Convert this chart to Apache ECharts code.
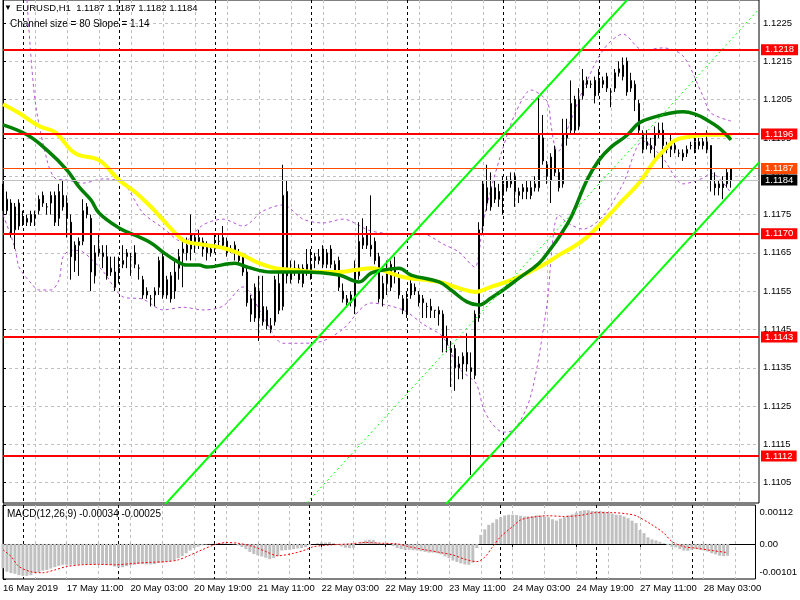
<!DOCTYPE html>
<html><head><meta charset="utf-8">
<script src="https://cdn.jsdelivr.net/npm/echarts@6/dist/echarts.min.js"></script>
<style>html,body{margin:0;padding:0;background:#fff}#c{width:800px;height:600px}</style>
</head><body><div id="c"></div>
<script>
// ---------- DATA ----------
const tradingDays = ['16 May','17 May','20 May','21 May','22 May','23 May','24 May','27 May','28 May'];
const firstBarHour = 19;
const slotCount = 190;
const tickLabels = ['16 May 2019','17 May 11:00','20 May 03:00','20 May 19:00','21 May 11:00','22 May 03:00','22 May 19:00','23 May 11:00','24 May 03:00','24 May 19:00','27 May 11:00','28 May 03:00'];
const priceTicks = [1.1105,1.1115,1.1125,1.1135,1.1145,1.1155,1.1165,1.1175,1.1185,1.1195,1.1205,1.1215,1.1225];
const levelLines = [1.1218,1.1196,1.1170,1.1143,1.1112];
const bidLine = 1.1187;
const askLine = 1.1184;
const macdTicks = [0.00112, 0, -0.00101];
// candles: [open, close, low, high]
const candles = [
[1.1182,1.1177,1.1176,1.1183],[1.1176,1.1179,1.1175,1.1181],[1.1178,1.1170,1.1169,1.1179],[1.1171,1.1177,1.1166,1.1178],
[1.1178,1.1172,1.1171,1.1179],[1.1174,1.1173,1.1172,1.1176],[1.1173,1.1174,1.1172,1.1175],[1.1175,1.1173,1.1172,1.1176],
[1.1174,1.1175,1.1172,1.1176],[1.1176,1.1179,1.1175,1.1180],[1.1180,1.1178,1.1177,1.1181],[1.1177,1.1177,1.1175,1.1178],
[1.1178,1.1180,1.1175,1.1181],[1.1180,1.1173,1.1172,1.1181],[1.1174,1.1181,1.1172,1.1183],[1.1180,1.1177,1.1176,1.1184],
[1.1178,1.1174,1.1169,1.1180],[1.1173,1.1164,1.1158,1.1175],[1.1163,1.1167,1.1160,1.1168],[1.1168,1.1167,1.1159,1.1169],
[1.1168,1.1176,1.1167,1.1179],[1.1177,1.1175,1.1174,1.1178],[1.1174,1.1160,1.1155,1.1175],[1.1159,1.1165,1.1157,1.1167],
[1.1166,1.1165,1.1164,1.1170],[1.1164,1.1165,1.1161,1.1167],[1.1164,1.1159,1.1158,1.1167],[1.1160,1.1161,1.1159,1.1164],
[1.1160,1.1156,1.1155,1.1164],[1.1160,1.1161,1.1157,1.1164],[1.1162,1.1163,1.1161,1.1167],[1.1164,1.1165,1.1161,1.1166],
[1.1164,1.1164,1.1159,1.1165],[1.1165,1.1162,1.1161,1.1167],[1.1161,1.1161,1.1158,1.1162],[1.1158,1.1154,1.1153,1.1159],
[1.1155,1.1154,1.1153,1.1156],[1.1153,1.1153,1.1151,1.1154],[1.1154,1.1155,1.1151,1.1156],[1.1156,1.1163,1.1154,1.1164],
[1.1164,1.1154,1.1153,1.1165],[1.1154,1.1158,1.1153,1.1159],[1.1159,1.1153,1.1152,1.1160],[1.1155,1.1160,1.1153,1.1163],
[1.1161,1.1164,1.1158,1.1166],[1.1165,1.1166,1.1156,1.1169],[1.1167,1.1165,1.1163,1.1169],[1.1166,1.1170,1.1163,1.1175],
[1.1169,1.1168,1.1165,1.1170],[1.1168,1.1169,1.1166,1.1171],[1.1168,1.1166,1.1164,1.1169],[1.1167,1.1165,1.1163,1.1168],
[1.1166,1.1165,1.1164,1.1167],[1.1166,1.1167,1.1165,1.1170],[1.1168,1.1168,1.1167,1.1170],[1.1169,1.1167,1.1166,1.1172],
[1.1168,1.1165,1.1164,1.1169],[1.1166,1.1166,1.1165,1.1167],[1.1167,1.1165,1.1163,1.1168],[1.1165,1.1163,1.1162,1.1166],
[1.1164,1.1160,1.1159,1.1165],[1.1160,1.1152,1.1151,1.1161],[1.1153,1.1149,1.1147,1.1154],[1.1148,1.1156,1.1147,1.1157],
[1.1155,1.1148,1.1142,1.1159],[1.1147,1.1151,1.1146,1.1159],[1.1150,1.1146,1.1145,1.1151],[1.1145,1.1146,1.1144,1.1148],
[1.1147,1.1158,1.1146,1.1159],[1.1157,1.1150,1.1149,1.1160],[1.1151,1.1180,1.1150,1.1188],[1.1181,1.1159,1.1157,1.1184],
[1.1158,1.1160,1.1157,1.1163],[1.1161,1.1160,1.1159,1.1163],[1.1161,1.1158,1.1157,1.1162],[1.1157,1.1161,1.1156,1.1162],
[1.1162,1.1160,1.1159,1.1166],[1.1159,1.1162,1.1158,1.1166],[1.1163,1.1164,1.1161,1.1165],[1.1163,1.1164,1.1162,1.1166],
[1.1166,1.1162,1.1161,1.1167],[1.1162,1.1165,1.1161,1.1166],[1.1166,1.1162,1.1161,1.1167],[1.1160,1.1162,1.1159,1.1163],
[1.1163,1.1156,1.1155,1.1164],[1.1155,1.1153,1.1152,1.1157],[1.1152,1.1153,1.1151,1.1154],[1.1152,1.1154,1.1151,1.1155],
[1.1151,1.1160,1.1149,1.1163],[1.1159,1.1168,1.1158,1.1173],[1.1167,1.1169,1.1166,1.1174],[1.1170,1.1167,1.1166,1.1172],
[1.1166,1.1167,1.1164,1.1180],[1.1168,1.1163,1.1162,1.1169],[1.1164,1.1153,1.1152,1.1165],[1.1153,1.1157,1.1151,1.1159],
[1.1160,1.1157,1.1154,1.1163],[1.1156,1.1162,1.1155,1.1163],[1.1161,1.1160,1.1157,1.1164],[1.1159,1.1154,1.1153,1.1160],
[1.1153,1.1150,1.1149,1.1154],[1.1149,1.1153,1.1148,1.1155],[1.1154,1.1157,1.1153,1.1159],[1.1156,1.1155,1.1154,1.1157],
[1.1154,1.1152,1.1151,1.1155],[1.1153,1.1152,1.1148,1.1154],[1.1151,1.1151,1.1148,1.1152],[1.1151,1.1150,1.1148,1.1153],
[1.1150,1.1150,1.1148,1.1150],[1.1149,1.1150,1.1146,1.1151],[1.1149,1.1143,1.1139,1.1150],[1.1143,1.1141,1.1139,1.1146],
[1.1140,1.1139,1.1130,1.1142],[1.1140,1.1135,1.1129,1.1141],[1.1136,1.1135,1.1132,1.1138],[1.1136,1.1138,1.1132,1.1139],
[1.1139,1.1136,1.1134,1.1144],[1.1135,1.1134,1.1107,1.1139],[1.1133,1.1149,1.1132,1.1150],[1.1148,1.1171,1.1147,1.1173],
[1.1172,1.1183,1.1170,1.1184],[1.1182,1.1178,1.1176,1.1188],[1.1177,1.1182,1.1176,1.1186],[1.1182,1.1179,1.1178,1.1184],
[1.1181,1.1179,1.1177,1.1183],[1.1180,1.1183,1.1175,1.1185],[1.1184,1.1182,1.1181,1.1185],[1.1183,1.1184,1.1182,1.1186],
[1.1185,1.1181,1.1177,1.1186],[1.1180,1.1181,1.1178,1.1182],[1.1182,1.1181,1.1179,1.1183],[1.1182,1.1181,1.1179,1.1184],
[1.1182,1.1180,1.1179,1.1184],[1.1182,1.1183,1.1181,1.1185],[1.1182,1.1196,1.1181,1.1206],[1.1195,1.1189,1.1188,1.1201],
[1.1188,1.1185,1.1183,1.1189],[1.1184,1.1190,1.1178,1.1191],[1.1192,1.1186,1.1185,1.1193],[1.1186,1.1182,1.1181,1.1187],
[1.1183,1.1196,1.1182,1.1200],[1.1195,1.1196,1.1193,1.1200],[1.1197,1.1204,1.1196,1.1210],[1.1205,1.1197,1.1196,1.1206],
[1.1198,1.1205,1.1197,1.1208],[1.1206,1.1210,1.1205,1.1213],[1.1209,1.1210,1.1208,1.1211],[1.1209,1.1209,1.1208,1.1210],
[1.1210,1.1206,1.1204,1.1211],[1.1207,1.1210,1.1206,1.1213],[1.1209,1.1210,1.1208,1.1211],[1.1211,1.1208,1.1207,1.1212],
[1.1207,1.1207,1.1203,1.1208],[1.1208,1.1212,1.1207,1.1213],[1.1212,1.1213,1.1211,1.1215],[1.1211,1.1214,1.1210,1.1216],
[1.1215,1.1207,1.1206,1.1216],[1.1208,1.1210,1.1207,1.1212],[1.1209,1.1205,1.1202,1.1210],[1.1204,1.1197,1.1196,1.1205],
[1.1196,1.1192,1.1191,1.1197],[1.1193,1.1194,1.1192,1.1197],[1.1193,1.1192,1.1191,1.1195],[1.1193,1.1196,1.1189,1.1198],
[1.1197,1.1196,1.1195,1.1199],[1.1197,1.1193,1.1187,1.1199],[1.1193,1.1192,1.1191,1.1194],[1.1192,1.1193,1.1190,1.1196],
[1.1193,1.1192,1.1191,1.1194],[1.1191,1.1191,1.1190,1.1192],[1.1191,1.1190,1.1189,1.1192],[1.1191,1.1192,1.1190,1.1193],
[1.1193,1.1193,1.1192,1.1194],[1.1192,1.1194,1.1191,1.1196],[1.1194,1.1193,1.1192,1.1195],[1.1194,1.1193,1.1192,1.1195],
[1.1194,1.1192,1.1191,1.1197],[1.1193,1.1184,1.1181,1.1193],[1.1183,1.1182,1.1180,1.1186],[1.1183,1.1182,1.1180,1.1184],
[1.1183,1.1182,1.1179,1.1185],[1.1183,1.1186,1.1182,1.1187],[1.1187,1.1184,1.1182,1.1187]
];
// moving averages, sampled [bar index, price]
const maYellow = [[0,1.12038],[4,1.12015],[9,1.11981],[13,1.11965],[17,1.11918],[19,1.11905],[24,1.11892],[29,1.11840],[33,1.11809],[37,1.11770],[40,1.11736],[43,1.11702],[45,1.11683],[47,1.11676],[51,1.11670],[56,1.11660],[60,1.11644],[64,1.11623],[68,1.11610],[73,1.11605],[79,1.11600],[84,1.11600],[88,1.11605],[92,1.11610],[100,1.11587],[109,1.11574],[114,1.11558],[118,1.11548],[122,1.11561],[127,1.11579],[131,1.11597],[135,1.11618],[139,1.11644],[142,1.11662],[146,1.11691],[151,1.11743],[155,1.11788],[159,1.11832],[163,1.11892],[166,1.11926],[168,1.11944],[171,1.11952],[176,1.11958],[180,1.11958],[182,1.11952]];
const maGreen = [[0,1.11984],[6,1.11958],[11,1.11918],[16,1.11866],[19,1.11822],[22,1.11788],[24,1.11754],[29,1.11715],[33,1.11696],[37,1.11676],[40,1.11652],[43,1.11631],[46,1.11618],[49,1.11618],[51,1.11613],[58,1.11623],[61,1.11613],[67,1.11600],[75,1.11600],[84,1.11592],[89,1.11574],[92,1.11597],[95,1.11605],[99,1.11610],[102,1.11592],[109,1.11574],[112,1.11553],[116,1.11522],[119,1.11514],[122,1.11532],[125,1.11553],[129,1.11584],[134,1.11623],[137,1.11662],[139,1.11691],[142,1.11743],[146,1.11840],[149,1.11892],[152,1.11926],[156,1.11957],[159,1.11989],[163,1.12005],[167,1.12015],[170,1.12018],[173,1.12012],[176,1.11997],[179,1.11976],[182,1.11945]];
const bandUpper = [[6,1.12310],[8,1.12049],[11,1.11892],[13,1.11845],[16,1.11840],[20,1.11832],[25,1.11843],[30,1.11832],[35,1.11754],[40,1.11715],[45,1.11678],[50,1.11723],[55,1.11738],[60,1.11720],[65,1.11759],[70,1.11775],[75,1.11738],[80,1.11728],[85,1.11738],[92,1.11707],[100,1.11699],[105,1.11699],[110,1.11673],[114,1.11652],[118,1.11613],[119,1.11652],[120,1.11728],[122,1.11817],[125,1.11924],[128,1.12012],[132,1.12075],[136,1.12046],[137,1.11984],[138,1.11926],[139,1.11916],[140,1.11942],[142,1.11997],[145,1.12075],[150,1.12179],[155,1.12221],[160,1.12179],[165,1.12185],[170,1.12164],[175,1.12059],[177,1.12015],[182,1.11994]];
const bandLower = [[0,1.11749],[3,1.11663],[4,1.11613],[7,1.11571],[9,1.11553],[12,1.11553],[14,1.11579],[15,1.11639],[17,1.11657],[20,1.11652],[25,1.11602],[30,1.11535],[35,1.11529],[40,1.11501],[45,1.11508],[50,1.11501],[55,1.11511],[60,1.11561],[65,1.11485],[70,1.11414],[75,1.11414],[80,1.11420],[85,1.11451],[92,1.11519],[100,1.11501],[105,1.11464],[110,1.11430],[114,1.11349],[118,1.11313],[119,1.11289],[120,1.11247],[122,1.11208],[125,1.11182],[128,1.11190],[132,1.11279],[136,1.11516],[137,1.11634],[138,1.11728],[139,1.11749],[140,1.11738],[142,1.11723],[145,1.11712],[150,1.11746],[155,1.11830],[160,1.11942],[165,1.11897],[170,1.11830],[175,1.11845],[177,1.11858],[182,1.11806]];
// regression channel (bar index, price) end points
const channelBars = [0, 189];
const channelMid = [1.10131, 1.12286];
const channelUpper = [1.10531, 1.12686];
const channelLower = [1.09731, 1.11886];
// MACD histogram per bar and signal line samples
const macdHist = [-0.00070,-0.00080,-0.00084,-0.00086,-0.00090,-0.00092,-0.00092,-0.00090,-0.00084,-0.00081,-0.00077,-0.00075,-0.00071,-0.00067,-0.00063,-0.00060,-0.00060,-0.00060,-0.00060,-0.00060,
-0.00060,-0.00059,-0.00059,-0.00059,-0.00059,-0.00060,-0.00060,-0.00061,-0.00065,-0.00068,-0.00067,-0.00064,-0.00061,-0.00060,-0.00058,-0.00058,-0.00059,-0.00059,-0.00058,-0.00055,
-0.00054,-0.00052,-0.00050,-0.00047,-0.00041,-0.00035,-0.00027,-0.00019,-0.00012,-0.00008,-0.00004,-0.00002,-0.00001,0.00001,0.00003,0.00003,0.00002,0.00001,-0.00001,-0.00004,
-0.00009,-0.00015,-0.00023,-0.00029,-0.00033,-0.00036,-0.00040,-0.00044,-0.00041,-0.00035,-0.00019,-0.00018,-0.00017,-0.00015,-0.00013,-0.00012,-0.00009,-0.00004,0.00000,0.00002,
0.00004,0.00004,0.00005,0.00002,-0.00002,-0.00007,-0.00011,-0.00012,-0.00011,0.00000,0.00006,0.00010,0.00012,0.00011,0.00004,0.00001,-0.00001,0.00001,-0.00006,-0.00012,
-0.00015,-0.00017,-0.00017,-0.00018,-0.00019,-0.00021,-0.00023,-0.00025,-0.00025,-0.00027,-0.00030,-0.00036,-0.00041,-0.00048,-0.00052,-0.00056,-0.00059,-0.00060,-0.00054,-0.00012,
0.00026,0.00042,0.00055,0.00061,0.00071,0.00077,0.00082,0.00084,0.00084,0.00083,0.00081,0.00079,0.00079,0.00080,0.00082,0.00082,0.00079,0.00077,0.00071,0.00067,
0.00073,0.00077,0.00082,0.00085,0.00090,0.00095,0.00097,0.00097,0.00095,0.00095,0.00095,0.00093,0.00090,0.00087,0.00084,0.00083,0.00079,0.00074,0.00067,0.00060,
0.00040,0.00031,0.00019,0.00013,0.00010,0.00006,0.00002,-0.00003,-0.00008,-0.00010,-0.00015,-0.00019,-0.00020,-0.00017,-0.00015,-0.00017,-0.00019,-0.00022,-0.00027,-0.00030,
-0.00034,-0.00035,-0.00034];
const macdSignal = [[0,-0.00017],[2,-0.00036],[4,-0.00065],[7,-0.00080],[10,-0.00083],[13,-0.00075],[16,-0.00065],[20,-0.00060],[24,-0.00059],[28,-0.00060],[33,-0.00056],[37,-0.00053],[41,-0.00051],[44,-0.00046],[47,-0.00032],[50,-0.00017],[53,-0.00003],[56,0.00004],[59,0.00002],[63,-0.00008],[66,-0.00022],[69,-0.00034],[73,-0.00027],[76,-0.00017],[78,-0.00008],[82,-0.00003],[87,0.00000],[91,0.00004],[95,0.00002],[99,0.00000],[102,-0.00008],[106,-0.00017],[110,-0.00025],[113,-0.00032],[116,-0.00044],[119,-0.00051],[121,-0.00038],[123,-0.00008],[125,0.00021],[128,0.00050],[130,0.00069],[133,0.00077],[137,0.00081],[141,0.00079],[145,0.00082],[149,0.00090],[153,0.00090],[157,0.00086],[159,0.00081],[163,0.00055],[166,0.00031],[168,0.00007],[171,-0.00008],[174,-0.00012],[178,-0.00019],[182,-0.00025]];

// ---------- BUILD ----------
const categories = [];
(function(){ let d = 0, h = firstBarHour;
  for (let i = 0; i < slotCount; i++) {
    categories.push(tradingDays[d] + ' ' + String(h).padStart(2,'0') + ':00');
    h++; if (h === 24) { h = 0; d++; }
  }})();
const isDayStart = (i) => / 00:00$/.test(categories[i]);

const FONT = 'Liberation Sans';
const G = {left:3, width:756};
const vGrid = (i) => i % 8 === 0;
const gridLineStyle = {color:'#c0c0c0', type:[3,3], width:1};
const sepStyle = {color:'#000', type:[3,3], width:1};
const hidden = {axisLine:{show:false}, axisTick:{show:false}, axisLabel:{show:false}};

const chart = echarts.init(document.getElementById('c'));
const option = {
  animation:false,
  backgroundColor:'#fff',
  grid:[
    {left:G.left, width:G.width, top:0, height:503, show:true, borderColor:'#000', borderWidth:1, backgroundColor:'#fff'},
    {left:G.left, width:G.width, top:505, height:74, show:true, borderColor:'#000', borderWidth:1, backgroundColor:'#fff'}
  ],
  xAxis:[
    {gridIndex:0, type:'category', data:categories, boundaryGap:false, ...hidden,
     splitLine:{show:true, interval:vGrid, lineStyle:gridLineStyle}},
    {gridIndex:1, type:'category', data:categories, boundaryGap:false, position:'bottom', axisLine:{show:true, lineStyle:{color:'#000'}},
     axisTick:{show:true, interval:(i)=> i % 16 === 0, length:3, lineStyle:{color:'#000'}},
     axisLabel:{show:true, interval:(i)=> i % 16 === 0 && i/16 < tickLabels.length, formatter:(v,i)=> tickLabels[i/16], align:'left', margin:4, color:'#000', fontSize:9.5, fontFamily:FONT},
     splitLine:{show:true, interval:vGrid, lineStyle:gridLineStyle}},
    {gridIndex:0, type:'value', min:0, max:slotCount-1, show:false},
    {gridIndex:1, type:'value', min:0, max:slotCount-1, show:false},
    {gridIndex:0, type:'category', data:categories, boundaryGap:false, position:'top', ...hidden,
     splitLine:{show:true, interval:isDayStart, lineStyle:sepStyle}},
    {gridIndex:1, type:'category', data:categories, boundaryGap:false, position:'top', ...hidden,
     splitLine:{show:true, interval:isDayStart, lineStyle:sepStyle}}
  ],
  yAxis:[
    {gridIndex:0, type:'value', position:'right', min:1.10997, max:1.12310,
     axisLine:{show:true, lineStyle:{color:'#000'}},
     axisTick:{show:true, customValues:priceTicks, length:3, lineStyle:{color:'#000'}},
     axisLabel:{customValues:priceTicks, formatter:(v)=> v.toFixed(4), color:'#000', fontSize:9.5, fontFamily:FONT, margin:4},
     splitLine:{show:true, lineStyle:gridLineStyle}},
    {gridIndex:1, type:'value', position:'right', min:-0.00101, max:0.00112,
     axisLine:{show:true, lineStyle:{color:'#000'}},
     axisTick:{show:true, customValues:macdTicks, length:3, lineStyle:{color:'#000'}},
     axisLabel:{customValues:macdTicks, color:'#000', fontSize:9.5, fontFamily:FONT, margin:4,
       formatter:(v)=> v > 0 ? '{t|' + v.toFixed(5) + '}' : (v < 0 ? '{b|' + v.toFixed(5) + '}' : '0.00'),
       rich:{t:{padding:[14,0,0,0], fontSize:9.5, fontFamily:FONT, color:'#000'}, b:{padding:[0,0,14,0], fontSize:9.5, fontFamily:FONT, color:'#000'}}},
     splitLine:{show:false}},
    {gridIndex:1, type:'value', position:'left', min:-0.00101, max:0.00112, ...hidden,
     axisTick:{show:false, customValues:[0]},
     splitLine:{show:true, lineStyle:gridLineStyle}}
  ],
  series:[
    {type:'line', xAxisIndex:2, yAxisIndex:0, data:bandUpper, symbol:'none', smooth:0.3, lineStyle:{color:'#b455d6', type:[3,3], width:1}, z:2, silent:true},
    {type:'line', xAxisIndex:2, yAxisIndex:0, data:bandLower, symbol:'none', smooth:0.3, lineStyle:{color:'#b455d6', type:[3,3], width:1}, z:2, silent:true},
    {type:'candlestick', xAxisIndex:0, yAxisIndex:0, data:candles, barWidth:2, z:3, silent:true,
     itemStyle:{color:'#fff', color0:'#000', borderColor:'#000', borderColor0:'#000', borderWidth:1}},
    {type:'line', xAxisIndex:2, yAxisIndex:0, data:maYellow, symbol:'none', smooth:0.4, lineStyle:{color:'#ffff00', width:4}, z:4, silent:true},
    {type:'line', xAxisIndex:2, yAxisIndex:0, data:maGreen, symbol:'none', smooth:0.4, lineStyle:{color:'#008000', width:3.5}, z:4, silent:true},
    {type:'line', xAxisIndex:2, yAxisIndex:0, data:channelBars.map((b,k)=>[b, channelUpper[k]]), symbol:'none', lineStyle:{color:'#00ff00', width:2}, z:5, silent:true},
    {type:'line', xAxisIndex:2, yAxisIndex:0, data:channelBars.map((b,k)=>[b, channelMid[k]]), symbol:'none', lineStyle:{color:'#00ff00', width:1, type:[2,3]}, z:5, silent:true},
    {type:'line', xAxisIndex:2, yAxisIndex:0, data:channelBars.map((b,k)=>[b, channelLower[k]]), symbol:'none', lineStyle:{color:'#00ff00', width:2}, z:5, silent:true},
    {type:'line', xAxisIndex:2, yAxisIndex:0, data:[], z:6, silent:true,
     markLine:{silent:true, precision:6, symbol:['none','none'], animation:false,
       label:{show:true, position:'end', distance:2, formatter:(p)=> Number(p.value).toFixed(4), color:'#fff', fontSize:9.5, fontFamily:FONT, padding:[1,4,0,4], lineHeight:10},
       data:[
         ...levelLines.map(v=>({yAxis:v, lineStyle:{color:'#ff0000', width:2, type:'solid'}, label:{backgroundColor:'#ff0000'}})),
         {yAxis:bidLine, lineStyle:{color:'#ff4a00', width:1, type:'solid'}, label:{backgroundColor:'#ff4a00'}},
         {yAxis:askLine, lineStyle:{color:'#c0c0c0', width:1, type:'solid'}, label:{backgroundColor:'#000'}}
       ]}},
    {type:'bar', xAxisIndex:1, yAxisIndex:1, data:macdHist, barWidth:3, itemStyle:{color:'#c0c0c0'}, z:3, silent:true},
    {type:'line', xAxisIndex:3, yAxisIndex:1, data:macdSignal, symbol:'none', smooth:0.3, lineStyle:{color:'#ff0000', width:1, type:[2,2]}, z:4, silent:true}
  ],
  graphic:[
    {type:'text', left:4, top:4, style:{text:'▼', fontSize:8, fill:'#000'}, z:100},
    {type:'text', left:16, top:3, style:{text:'EURUSD,H1  1.1187 1.1187 1.1182 1.1184', font:'9.5px "Liberation Sans"', fill:'#000'}, z:100},
    {type:'text', left:10, top:19, style:{text:'Channel size = 80 Slope = 1.14', font:'10px "Liberation Sans"', fill:'#000'}, z:100},
    {type:'text', left:7, top:509, style:{text:'MACD(12,26,9) -0.00034 -0.00025', font:'10px "Liberation Sans"', fill:'#000'}, z:100}
  ]
};
chart.setOption(option);
</script>
</body></html>
